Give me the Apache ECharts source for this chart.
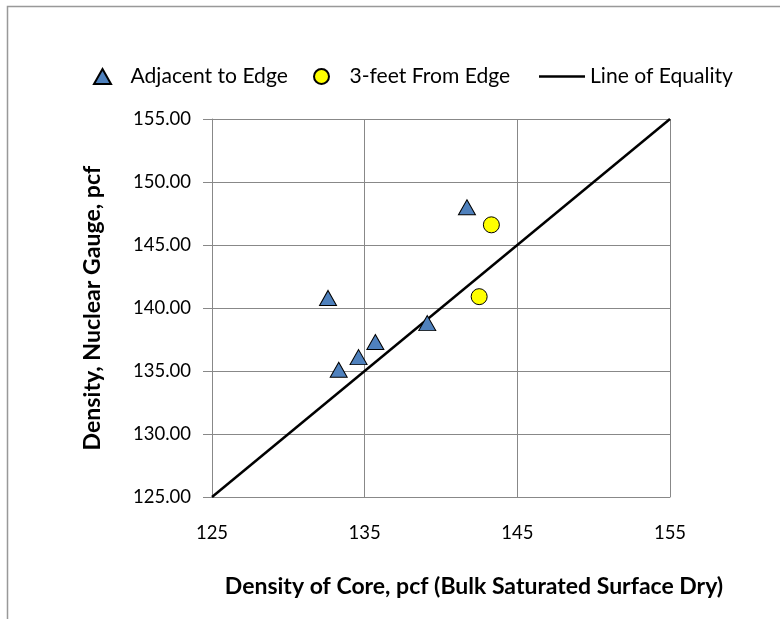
<!DOCTYPE html>
<html>
<head>
<meta charset="utf-8">
<script src="https://cdn.jsdelivr.net/npm/echarts@6/dist/echarts.min.js"></script>
<style>html,body{margin:0;padding:0;background:#fff;}#chart{width:780px;height:619px;}</style>
</head>
<body>
<div id="chart"></div>
<script>
// ---- data ----
const adjacentX = [132.6, 133.3, 134.6, 135.7, 139.1, 141.7];
const adjacentY = [140.8, 135.1, 136.1, 137.3, 138.8, 148.0];
const threeFeetX = [142.5, 143.3];
const threeFeetY = [140.9, 146.6];
const equalityX = [125, 155];
const equalityY = [125, 155];
const xTicks = [125, 135, 145, 155];
const yTicks = [125, 130, 135, 140, 145, 150, 155];
const seriesNames = ['Adjacent to Edge', '3-feet From Edge', 'Line of Equality'];
const xTitle = 'Density of Core, pcf (Bulk Saturated Surface Dry)';
const yTitle = 'Density, Nuclear Gauge, pcf';

const FONT = 'Lato';
const ctx = document.createElement('canvas').getContext('2d');
function measure(text, weight, size) {
  ctx.font = weight + ' ' + size + 'px ' + FONT;
  return ctx.measureText(text).width;
}
function fit(text, weight, target) {
  return Math.round(10 * 100 * target / measure(text, weight, 100)) / 10;
}
const tickSize = fit('155.00', 'normal', 58);
const legendSize = fit('Line of Equality', 'normal', 143);
const xTitleSize = fit(xTitle, 'bold', 498);
const yTitleSize = fit(yTitle, 'bold', 285);

// legend layout
const LEG_W = 46, LEG_H = 15, LEG_TOP = 61;
const leg1Text = measure(seriesNames[0], 'normal', legendSize);
const leg1Left = Math.round(296 - leg1Text - 5 - LEG_W);

const zip = (a, b) => a.map((v, i) => [v, b[i]]);
const chart = echarts.init(document.getElementById('chart'));
const legendText = { fontFamily: FONT, fontSize: legendSize, color: '#000' };
const legendBase = { top: LEG_TOP, itemWidth: LEG_W, itemHeight: LEG_H, symbolKeepAspect: true, textStyle: legendText };
chart.setOption({
  animation: false,
  textStyle: { fontFamily: FONT },
  title: {
    text: xTitle, left: 469, top: 570, textAlign: 'center',
    textStyle: { fontFamily: FONT, fontWeight: 'bold', fontSize: xTitleSize, color: '#000' }
  },
  graphic: [{
    type: 'rect', silent: true,
    shape: { x: 7.5, y: 6.5, width: 900, height: 800 },
    style: { fill: 'none', stroke: '#999', lineWidth: 1.5 }
  }],
  legend: [
    Object.assign({}, legendBase, { left: leg1Left,
      data: [{ name: seriesNames[0], icon: 'path://M8.5,0L17,15L0,15Z' }] }),
    Object.assign({}, legendBase, { left: 308,
      data: [{ name: seriesNames[1], icon: 'circle' }] }),
    Object.assign({}, legendBase, { left: 534,
      data: [{ name: seriesNames[2], icon: 'path://M0,0L46,0L46,2.5L0,2.5Z' }] })
  ],
  grid: { left: 212, top: 119, right: 110, bottom: 122, containLabel: false },
  xAxis: {
    type: 'value', min: 125, max: 155, interval: 10,
    axisLine: { show: true, lineStyle: { color: '#888', width: 1 } },
    axisTick: { show: false },
    splitLine: { show: true, lineStyle: { color: '#888', width: 1 } },
    axisLabel: { fontSize: tickSize, color: '#000', margin: 27,
      formatter: v => xTicks.includes(v) ? String(v) : '' }
  },
  yAxis: {
    type: 'value', min: 125, max: 155, interval: 5,
    name: yTitle, nameLocation: 'middle', nameGap: 108, nameRotate: 90,
    nameTextStyle: { fontFamily: FONT, fontWeight: 'bold', fontSize: yTitleSize, color: '#000' },
    axisLine: { show: true, lineStyle: { color: '#888', width: 1 } },
    axisTick: { show: true, inside: false, length: 9, lineStyle: { color: '#888' } },
    splitLine: { show: true, lineStyle: { color: '#888', width: 1 } },
    axisLabel: { fontSize: tickSize, color: '#000', margin: 21,
      formatter: v => yTicks.includes(v) ? v.toFixed(2) : '' }
  },
  series: [
    { name: seriesNames[2], type: 'line', data: zip(equalityX, equalityY), symbol: 'none',
      lineStyle: { color: '#000', width: 2.5 }, itemStyle: { color: '#000' }, z: 2 },
    { name: seriesNames[0], type: 'scatter', data: zip(adjacentX, adjacentY),
      symbol: 'triangle', symbolSize: [17, 15],
      itemStyle: { color: '#4F81BD', borderColor: '#000', borderWidth: 1, opacity: 1 }, z: 3 },
    { name: seriesNames[1], type: 'scatter', data: zip(threeFeetX, threeFeetY),
      symbol: 'circle', symbolSize: 16,
      itemStyle: { color: '#FFFF00', borderColor: '#000', borderWidth: 1, opacity: 1 }, z: 3 }
  ]
});
</script>
</body>
</html>
